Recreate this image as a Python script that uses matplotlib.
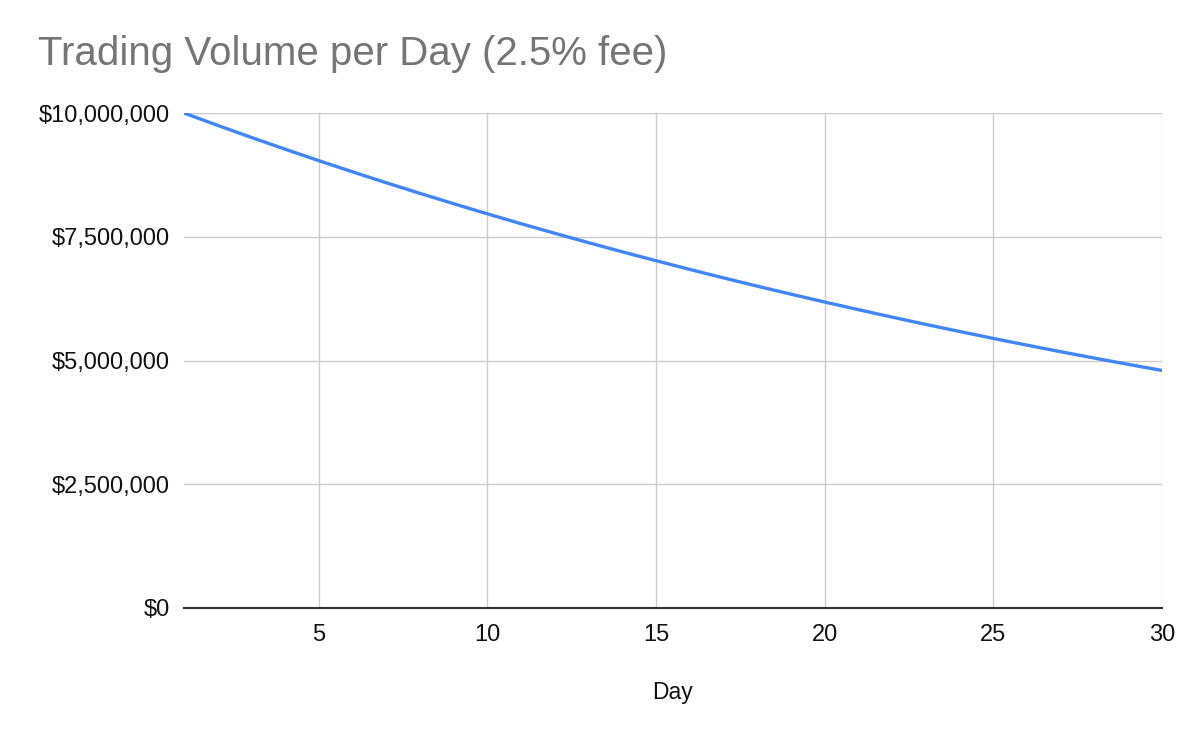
import matplotlib.pyplot as plt
from matplotlib.ticker import FuncFormatter

plt.rcParams['font.family'] = ['Liberation Sans', 'DejaVu Sans']

# Values (trading volume per day, USD)
days = list(range(1, 31))
volume = [10000000, 9750000, 9506000, 9269000, 9037000, 8811000, 8591000, 8376000,
          8167000, 7962000, 7763000, 7569000, 7380000, 7195000, 7016000, 6840000,
          6669000, 6502000, 6340000, 6181000, 6027000, 5876000, 5729000, 5586000,
          5446000, 5310000, 5177000, 5048000, 4922000, 4799000]
x_ticks = [5, 10, 15, 20, 25, 30]
y_ticks = [0, 2500000, 5000000, 7500000, 10000000]

fig = plt.figure(figsize=(12, 7.42), dpi=100)
ax = fig.add_axes([0.1533, 0.1806, 0.815, 0.6671])

ax.plot(days, volume, color='#4285F4', linewidth=2.4, solid_capstyle='round', zorder=4)

ax.set_xlim(1, 30)
ax.set_ylim(0, 10000000)
ax.set_xticks(x_ticks)
ax.set_yticks(y_ticks)
ax.yaxis.set_major_formatter(FuncFormatter(lambda v, p: '${:,.0f}'.format(v)))
ax.grid(True, color='#cccccc', linewidth=1)
ax.set_axisbelow(True)

for side in ['top', 'right', 'left']:
    ax.spines[side].set_visible(False)
ax.spines['bottom'].set_color('#333333')
ax.spines['bottom'].set_linewidth(1.5)
ax.spines['bottom'].set_zorder(3)

ax.tick_params(axis='both', length=0, labelsize=17, colors='#111111')
ax.tick_params(axis='y', pad=10)
ax.tick_params(axis='x', pad=11.5)

ax.set_xlabel('Day', fontsize=16.5, color='#111111', labelpad=25)
fig.text(0.032, 0.927, 'Trading Volume per Day (2.5% fee)', fontsize=29,
         color='#757575', ha='left', va='center')

fig.savefig('out.png', dpi=100, facecolor='white')
